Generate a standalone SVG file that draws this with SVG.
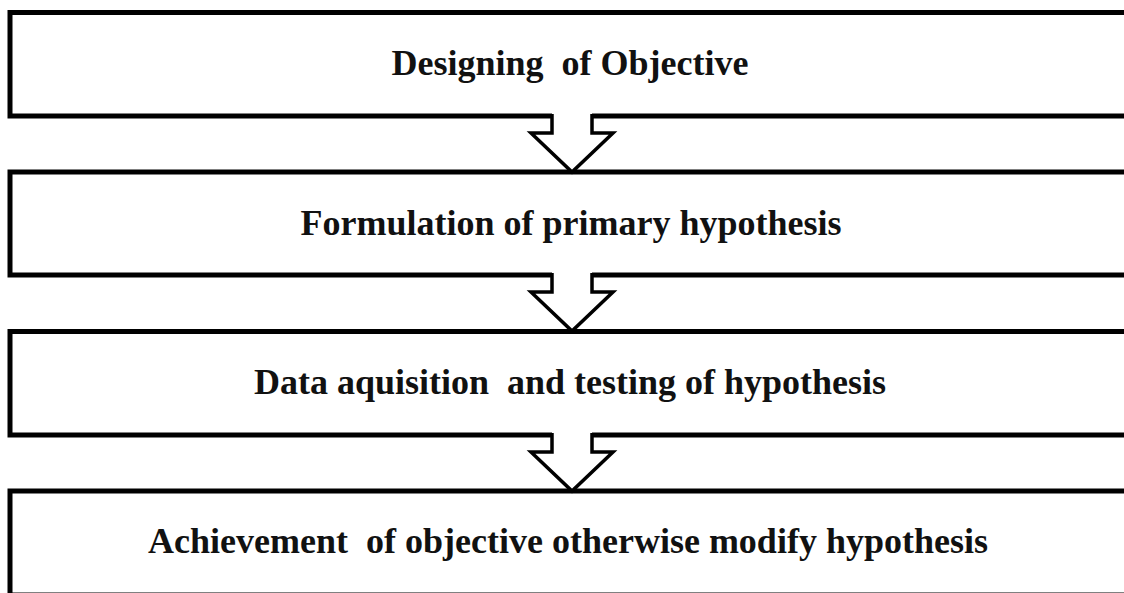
<svg xmlns="http://www.w3.org/2000/svg" width="1124" height="593" viewBox="0 0 1124 593">
<style>
.box{fill:#fff;stroke:#000;stroke-width:5}
.lbl{font-family:"Liberation Serif","Times New Roman",serif;font-weight:bold;font-size:36px;fill:#111;text-anchor:middle;white-space:pre}
.cover{fill:#fff;stroke:none}
.arr{fill:none;stroke:#000;stroke-width:3.5;stroke-linejoin:miter}
</style>
<rect width="1124" height="593" fill="#fff"/>
<g id="node1"><rect class="box" x="10" y="12.5" width="1125" height="103.5"/><text class="lbl" x="570" y="75" xml:space="preserve">Designing  of Objective</text></g>
<g id="node2"><rect class="box" x="10" y="172" width="1125" height="103"/><text class="lbl" x="571" y="234.5" xml:space="preserve">Formulation of primary hypothesis</text></g>
<g id="node3"><rect class="box" x="10" y="331.5" width="1125" height="103.5"/><text class="lbl" x="570" y="394" xml:space="preserve">Data aquisition  and testing of hypothesis</text></g>
<g id="node4"><rect class="box" x="10" y="491" width="1125" height="104"/><text class="lbl" x="568" y="553" xml:space="preserve">Achievement  of objective otherwise modify hypothesis</text></g>
<g id="connectors">
<path class="cover" d="M552,112 L552,133 L531,133 L572,172 L613,133 L592,133 L592,112 Z"/>
<path class="arr" d="M552,114 L552,133 L531,133 L572,172 L613,133 L592,133 L592,114"/>
<path class="cover" d="M552,271 L552,292 L531,292 L572,331 L613,292 L592,292 L592,271 Z"/>
<path class="arr" d="M552,273 L552,292 L531,292 L572,331 L613,292 L592,292 L592,273"/>
<path class="cover" d="M552,431 L552,452 L531,452 L572,491 L613,452 L592,452 L592,431 Z"/>
<path class="arr" d="M552,433 L552,452 L531,452 L572,491 L613,452 L592,452 L592,433"/>
</g>
</svg>
